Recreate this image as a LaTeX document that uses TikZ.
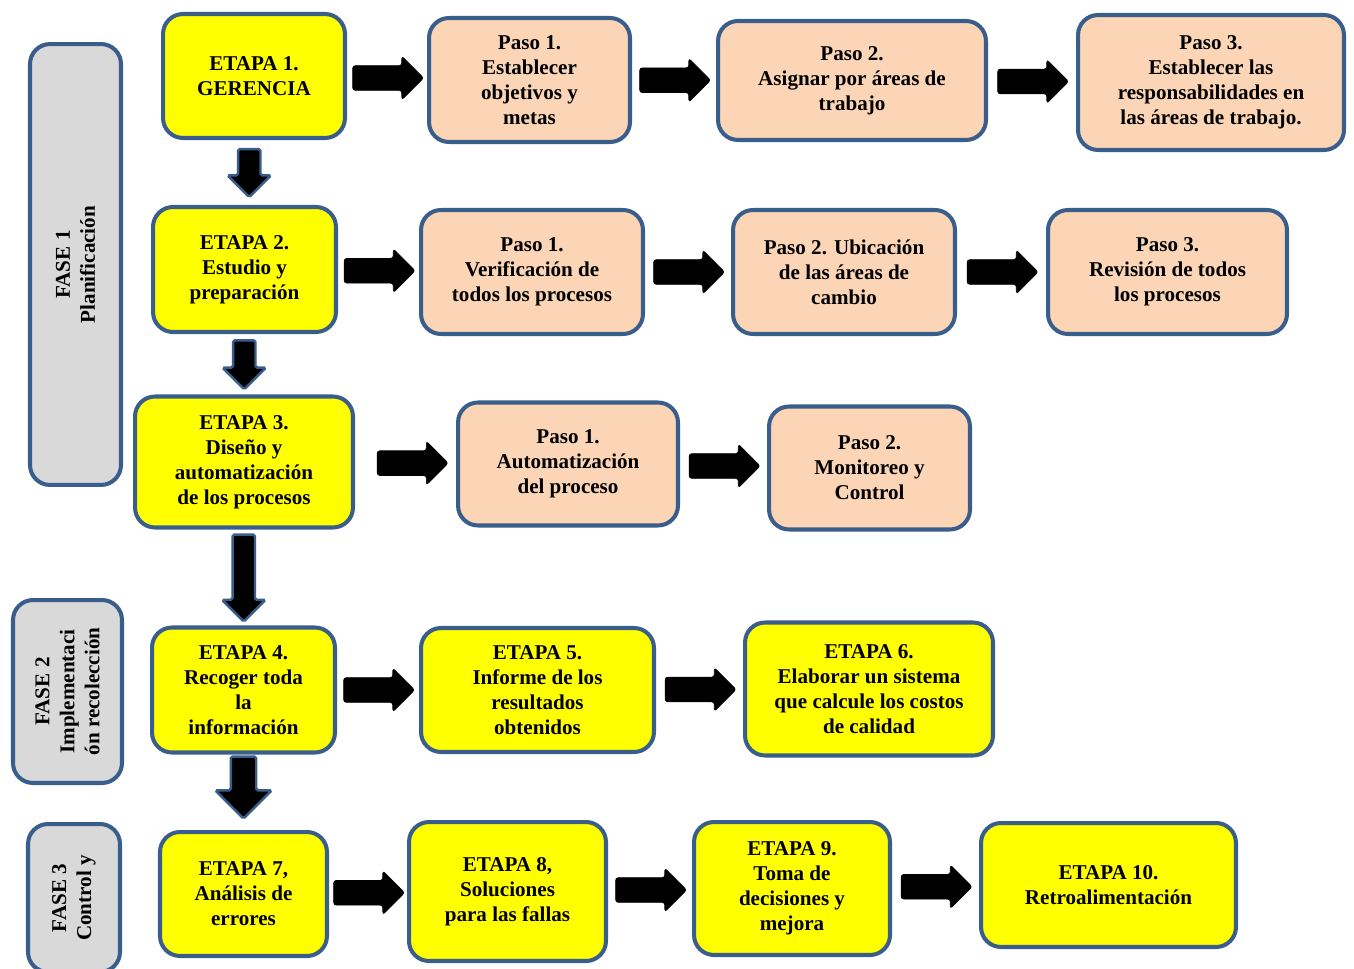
\documentclass[tikz,border=0pt]{standalone}
\usepackage{fontspec}
\setmainfont{Liberation Serif}
\usetikzlibrary{shapes.arrows}
\definecolor{borde}{HTML}{3A5E8C}
\definecolor{amarillo}{HTML}{FFFF00}
\definecolor{durazno}{HTML}{FBD5B5}
\definecolor{gris}{HTML}{D9D9D9}
\begin{document}
\begin{tikzpicture}[x=0.02cm,y=-0.02cm,
    caja/.style={draw=borde,line width=2.3pt,rounded corners=0.4cm,align=center,
      inner sep=0pt,font=\bfseries\fontsize{12}{14.2}\selectfont},
    etapa/.style={caja,fill=amarillo},
    paso/.style={caja,fill=durazno},
    fase/.style={caja,fill=gris,rotate=90},
    harrow/.style={xshift=-0.1cm,single arrow,fill=black,draw=black,line width=0.4pt,
      inner xsep=0pt,inner ysep=0.24cm,minimum height=1.42cm,
      single arrow head extend=0.19cm,rounded corners=1.5pt},
    varrow/.style={yshift=0.1cm,single arrow,rotate=-90,fill=black,draw=borde,
      line width=1.4pt,inner xsep=0pt,inner ysep=0.2cm,single arrow head extend=0.21cm,
      rounded corners=1pt}]
  \useasboundingbox (0,0) rectangle (1354,969);
  % fases
  \node[fase,minimum width=8.82cm,minimum height=1.82cm] (F1) at (75.5,264.5) {FASE 1\\Planificación};
  \node[fase,minimum width=3.66cm,minimum height=2.18cm] (F2) at (67.5,691.5) {FASE 2\\Implementaci\\ón recolección};
  \node[fase,minimum width=2.96cm,minimum height=1.84cm] (F3) at (74,898) {FASE 3\\Control y};
  % fila 1
  \node[etapa,minimum width=3.64cm,minimum height=2.48cm] (E1) at (254,76) {ETAPA 1.\\GERENCIA};
  \node[paso,minimum width=4.02cm,minimum height=2.48cm] (P11) at (529.5,80) {Paso 1.\\Establecer\\objetivos y\\metas};
  \node[paso,minimum width=5.36cm,minimum height=2.38cm] (P12) at (852,80.5) {Paso 2.\\Asignar por áreas de\\trabajo};
  \node[paso,minimum width=5.32cm,minimum height=2.70cm] (P13) at (1211,82.5) {Paso 3.\\Establecer las\\responsabilidades en\\las áreas de trabajo.};
  % fila 2
  \node[etapa,minimum width=3.66cm,minimum height=2.50cm] (E2) at (244.5,269.5) {ETAPA 2.\\Estudio y\\preparación};
  \node[paso,minimum width=4.44cm,minimum height=2.48cm] (P21) at (532,272) {Paso 1.\\Verificación de\\todos los procesos};
  \node[paso,minimum width=4.44cm,minimum height=2.48cm] (P22) at (844,272) {Paso 2. Ubicación\\de las áreas de\\cambio};
  \node[paso,minimum width=4.78cm,minimum height=2.48cm] (P23) at (1167.5,272) {Paso 3.\\Revisión de todos\\los procesos};
  % fila 3
  \node[etapa,minimum width=4.36cm,minimum height=2.62cm] (E3) at (244,462) {ETAPA 3.\\Diseño y\\automatización\\de los procesos};
  \node[paso,minimum width=4.40cm,minimum height=2.46cm] (P31) at (568,464) {Paso 1.\\Automatización\\del proceso};
  \node[paso,minimum width=4.02cm,minimum height=2.46cm] (P32) at (869.5,468) {Paso 2.\\Monitoreo y\\Control};
  % fila 4
  \node[etapa,minimum width=3.66cm,minimum height=2.50cm] (E4) at (243.5,690) {ETAPA 4.\\Recoger toda\\la\\información};
  \node[etapa,minimum width=4.66cm,minimum height=2.48cm] (E5) at (537.5,690) {ETAPA 5.\\Informe de los\\resultados\\obtenidos};
  \node[etapa,minimum width=4.96cm,minimum height=2.66cm] (E6) at (869,689) {ETAPA 6.\\Elaborar un sistema\\que calcule los costos\\de calidad};
  % fila 5
  \node[etapa,minimum width=3.34cm,minimum height=2.48cm] (E7) at (243.5,894) {ETAPA 7,\\Análisis de\\errores};
  \node[etapa,minimum width=3.94cm,minimum height=2.78cm] (E8) at (507.5,891.5) {ETAPA 8,\\Soluciones\\para las fallas};
  \node[etapa,minimum width=3.92cm,minimum height=2.66cm] (E9) at (792,888.5) {ETAPA 9.\\Toma de\\decisiones y\\mejora};
  \node[etapa,minimum width=5.10cm,minimum height=2.48cm] (E10) at (1108.5,885) {ETAPA 10.\\Retroalimentación};
  % flechas horizontales
  \path (E1.east) -- node[harrow] (a11) {} (P11.west);
  \path (P11.east) -- node[harrow] (a12) {} (P12.west);
  \path (P12.east) -- node[harrow] (a13) {} (P13.west);
  \path (E2.east) -- node[harrow] (a21) {} (P21.west);
  \path (P21.east) -- node[harrow] (a22) {} (P22.west);
  \path (P22.east) -- node[harrow] (a23) {} (P23.west);
  \path (E3.east) -- node[harrow,pos=0.56] (a31) {} (P31.west);
  \path (P31.east) -- node[harrow] (a32) {} (P32.west);
  \path (E4.east) -- node[harrow] (a41) {} (E5.west);
  \path (E5.east) -- node[harrow] (a42) {} (E6.west);
  \path (E7.east) -- node[harrow] (a51) {} (E8.west);
  \path (E8.east) -- node[harrow] (a52) {} (E9.west);
  \path (E9.east) -- node[harrow] (a53) {} (E10.west);
  % flechas verticales
  \path (E1.south) -- node[varrow,minimum height=0.96cm] (b1) {} (E2.north);
  \path (E2.south) -- node[varrow,minimum height=0.98cm] (b2) {} (E3.north);
  \path (E3.south) -- node[varrow,minimum height=1.74cm] (b3) {} (E4.north);
  \path (E4.south) -- node[varrow,xshift=-0.12cm,minimum height=1.24cm,inner ysep=0.23cm,single arrow head extend=0.31cm] (b4) {} (E7.north);
\end{tikzpicture}
\end{document}
